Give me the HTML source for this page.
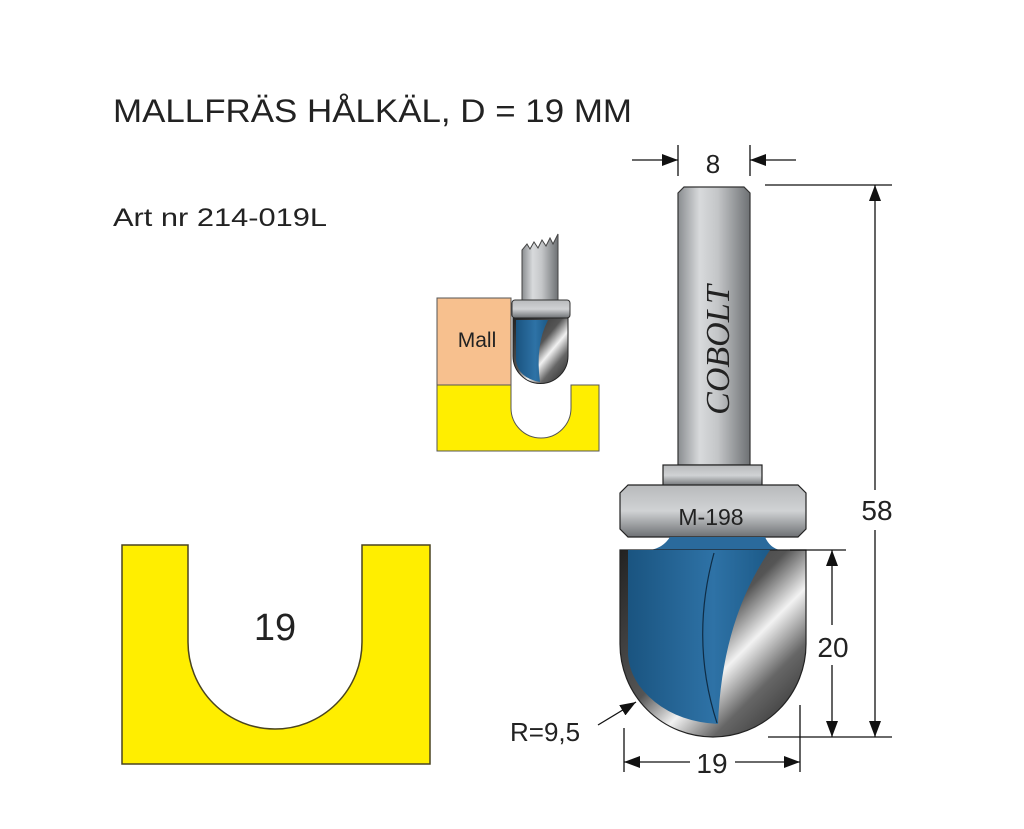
<!DOCTYPE html>
<html><head><meta charset="utf-8"><style>
html,body{margin:0;padding:0;background:#fff;}
svg{display:block;}
text{font-family:"Liberation Sans",sans-serif;fill:#222;}
</style></head><body>
<svg width="1024" height="829" viewBox="0 0 1024 829" xmlns="http://www.w3.org/2000/svg">
<defs>
<linearGradient id="steel" x1="0" x2="1" y1="0" y2="0">
<stop offset="0" stop-color="#8a8d90"/><stop offset="0.3" stop-color="#d8dadc"/><stop offset="0.55" stop-color="#c4c6c8"/><stop offset="1" stop-color="#6e7174"/>
</linearGradient>
<linearGradient id="steelv" x1="0" x2="0" y1="0" y2="1">
<stop offset="0" stop-color="#b8babc"/><stop offset="0.5" stop-color="#d0d2d4"/><stop offset="1" stop-color="#6e7174"/>
</linearGradient>
<linearGradient id="blue" x1="0" x2="1" y1="0" y2="0">
<stop offset="0" stop-color="#1a5480"/><stop offset="0.6" stop-color="#2e72a6"/><stop offset="1" stop-color="#1c5a88"/>
</linearGradient>
<linearGradient id="chrome" x1="0" x2="1" y1="0" y2="1">
<stop offset="0" stop-color="#222"/><stop offset="0.45" stop-color="#555"/><stop offset="0.6" stop-color="#f2f2f2"/><stop offset="0.75" stop-color="#666"/><stop offset="1" stop-color="#222"/>
</linearGradient>
<marker id="ar" viewBox="0 0 10 10" refX="10" refY="5" markerWidth="16" markerHeight="12" markerUnits="userSpaceOnUse" orient="auto" preserveAspectRatio="none"><path d="M0,0 L10,5 L0,10 z" fill="#111"/></marker>
</defs>

<text x="113" y="122" font-size="32" textLength="519" lengthAdjust="spacingAndGlyphs">MALLFRÄS HÅLKÄL, D = 19 MM</text>
<text x="113" y="226" font-size="25" textLength="214" lengthAdjust="spacingAndGlyphs">Art nr 214-019L</text>

<path d="M122,545 H188 V642 A87,87 0 0 0 362,642 V545 H430 V764 H122 Z" fill="#ffee00" stroke="#4a4420" stroke-width="1.5"/>
<text x="275" y="640" font-size="38" text-anchor="middle">19</text>

<rect x="437" y="298" width="74" height="87" fill="#f7c08e" stroke="#555" stroke-width="1"/>
<text x="477" y="347" font-size="21" text-anchor="middle">Mall</text>
<path d="M437,385 H511 V408 A30,30 0 0 0 571,408 V385 H599 V451 H437 Z" fill="#ffee00" stroke="#555" stroke-width="1"/>
<path d="M522,300 V250 L527,244 L530,249 L534,242 L538,248 L542,240 L546,246 L550,238 L553,244 L558,234 V300 Z" fill="url(#steel)" stroke="#444" stroke-width="1"/>
<rect x="512" y="300" width="58" height="18" rx="3" fill="url(#steelv)" stroke="#333" stroke-width="1"/>
<path d="M513,318 H568 V356 A27.5,27.5 0 0 1 513,356 Z" fill="url(#chrome)" stroke="#222" stroke-width="1"/>
<path d="M516,320 H548 Q535,345 540,382 Q518,378 516,360 Z" fill="url(#blue)"/>

<path d="M678,193 L684,187 H744 L750,193 V465 H678 Z" fill="url(#steel)" stroke="#333" stroke-width="1.2"/>
<text transform="translate(729,350) rotate(-90)" font-style="italic" font-size="34" text-anchor="middle" style="font-family:'Liberation Serif',serif">COBOLT</text>
<rect x="663" y="465" width="99" height="21" fill="url(#steelv)" stroke="#222" stroke-width="1.2"/>
<path d="M628,485 H798 L806,493 V529 L798,537 H628 L620,529 V493 Z" fill="url(#steelv)" stroke="#222" stroke-width="1.2"/>
<text x="711" y="525" font-size="23" text-anchor="middle">M-198</text>
<path d="M670,537 H765 Q770,548 780,550 H650 Q663,548 670,537 Z" fill="#2a6a9c"/>
<path d="M620,550 H806 V644 A93,93 0 0 1 620,644 Z" fill="url(#chrome)" stroke="#222" stroke-width="1.2"/>
<path d="M628,550 H770 Q722,620 718,724 Q680,722 655,702 Q630,682 628,655 Z" fill="url(#blue)"/>
<path d="M714,553 Q690,640 717,723" fill="none" stroke="#0f2c44" stroke-width="1.2"/>

<g stroke="#111" stroke-width="1.3" fill="none">
<line x1="678" y1="145" x2="678" y2="176"/><line x1="750" y1="145" x2="750" y2="176"/>
<line x1="632" y1="160" x2="678" y2="160" marker-end="url(#ar)"/>
<line x1="796" y1="160" x2="750" y2="160" marker-end="url(#ar)"/>
<line x1="765" y1="185" x2="892" y2="185"/>
<line x1="875" y1="490" x2="875" y2="185" marker-end="url(#ar)"/>
<line x1="875" y1="530" x2="875" y2="737" marker-end="url(#ar)"/>
<line x1="768" y1="737" x2="892" y2="737"/>
<line x1="790" y1="550" x2="846" y2="550"/>
<line x1="832" y1="625" x2="832" y2="550" marker-end="url(#ar)"/>
<line x1="832" y1="665" x2="832" y2="737" marker-end="url(#ar)"/>
<line x1="624" y1="728" x2="624" y2="772"/><line x1="800" y1="705" x2="800" y2="772"/>
<line x1="690" y1="762" x2="624" y2="762" marker-end="url(#ar)"/>
<line x1="735" y1="762" x2="800" y2="762" marker-end="url(#ar)"/>
<line x1="598" y1="725" x2="636" y2="702" marker-end="url(#ar)"/>
</g>
<text x="713" y="173" font-size="26" text-anchor="middle">8</text>
<text x="877" y="520" font-size="28" text-anchor="middle">58</text>
<text x="833" y="657" font-size="28" text-anchor="middle">20</text>
<text x="712" y="773" font-size="28" text-anchor="middle">19</text>
<text x="510" y="741" font-size="26">R=9,5</text>
</svg>
</body></html>
